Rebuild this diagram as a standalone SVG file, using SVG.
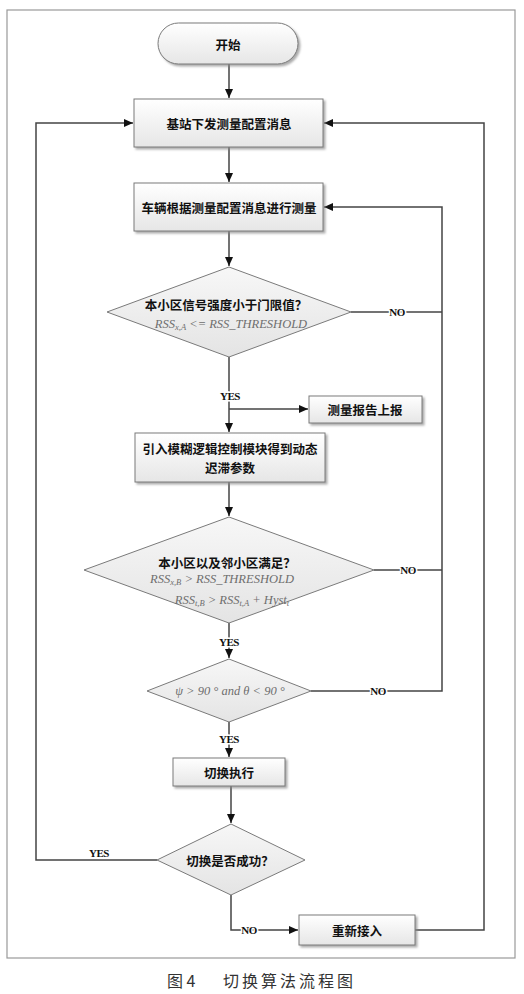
<svg xmlns="http://www.w3.org/2000/svg" width="524" height="994" viewBox="0 0 524 994">
<defs>
<linearGradient id="gBox" x1="0" y1="0" x2="0" y2="1"><stop offset="0" stop-color="#ffffff"/><stop offset="1" stop-color="#e6e6e6"/></linearGradient>
<linearGradient id="gDia" x1="0" y1="0" x2="0" y2="1"><stop offset="0" stop-color="#f7f7f7"/><stop offset="1" stop-color="#e4e4e4"/></linearGradient>
<filter id="sh" x="-10%" y="-10%" width="130%" height="140%"><feDropShadow dx="2" dy="2" stdDeviation="1" flood-color="#888" flood-opacity="0.7"/></filter>
<marker id="ar" markerWidth="10" markerHeight="10" refX="9" refY="5" orient="auto" markerUnits="userSpaceOnUse"><path d="M0,1 L9,5 L0,9 Z" fill="#111"/></marker>
</defs>
<style>
.box{fill:url(#gBox);stroke:#7a7a7a;stroke-width:1;filter:url(#sh)}
.dia{fill:url(#gDia);stroke:#7a7a7a;stroke-width:1}
.t{font-family:"Noto Sans CJK SC","Liberation Sans",sans-serif;font-weight:bold;font-size:12.5px;fill:#111;text-anchor:middle;dominant-baseline:central}
.m{font-family:"Liberation Serif",serif;font-style:italic;font-size:12.5px;fill:#6e6e6e;text-anchor:middle;dominant-baseline:central}
.lbl{font-family:"Liberation Serif",serif;font-weight:bold;font-size:11px;fill:#111;text-anchor:middle;dominant-baseline:central;letter-spacing:-0.5px;stroke:#fff;stroke-width:3px;paint-order:stroke}
.c{fill:none;stroke:#444;stroke-width:1.5}
.cap{font-family:"Noto Sans CJK SC","Liberation Serif",serif;font-size:16px;fill:#333;dominant-baseline:central}
</style>
<rect x="7" y="10" width="508" height="948" fill="#fff" stroke="#999" stroke-width="1.2"/>
<g id="connectors">
<path class="c" d="M229,64 V98" marker-end="url(#ar)"/>
<path class="c" d="M229,147 V182" marker-end="url(#ar)"/>
<path class="c" d="M229,231 V266" marker-end="url(#ar)"/>
<path class="c" d="M351,312 H442"/>
<path class="c" d="M229,357 V432" marker-end="url(#ar)"/>
<path class="c" d="M229,409 H308" marker-end="url(#ar)"/>
<path class="c" d="M229,482 V516" marker-end="url(#ar)"/>
<path class="c" d="M374,570 H442"/>
<path class="c" d="M229,623 V658" marker-end="url(#ar)"/>
<path class="c" d="M311,691 H442 V207 H324" marker-end="url(#ar)"/>
<path class="c" d="M229,722 V757" marker-end="url(#ar)"/>
<path class="c" d="M231,786 V823" marker-end="url(#ar)"/>
<path class="c" d="M157,860 H36 V123 H133" marker-end="url(#ar)"/>
<path class="c" d="M231,895 V930 H298" marker-end="url(#ar)"/>
<path class="c" d="M415,930 H484 V123 H324" marker-end="url(#ar)"/>
<text class="lbl" x="397" y="312">NO</text>
<text class="lbl" x="230" y="396">YES</text>
<text class="lbl" x="408" y="570">NO</text>
<text class="lbl" x="229" y="642">YES</text>
<text class="lbl" x="378" y="691">NO</text>
<text class="lbl" x="229" y="739">YES</text>
<text class="lbl" x="99" y="853">YES</text>
<text class="lbl" x="249" y="930">NO</text>
</g>
<g id="start">
<rect x="158" y="23" width="140" height="41" rx="20.5" class="box"/>
<text class="t" x="228" y="44">开始</text>
</g>
<g id="box1">
<rect x="134" y="99" width="189" height="48" class="box"/>
<text class="t" x="229" y="123">基站下发测量配置消息</text>
</g>
<g id="box2">
<rect x="134" y="183" width="189" height="48" class="box"/>
<text class="t" x="229" y="207">车辆根据测量配置消息进行测量</text>
</g>
<g id="dec1">
<polygon class="dia" points="229,267 351,312 229,357 107,312"/>
<text class="t" x="226" y="304">本小区信号强度小于门限值？</text>
<text class="m" x="231" y="324">RSS<tspan font-size="8.5" dy="3">x,A</tspan><tspan dy="-3">  &lt;= RSS_THRESHOLD</tspan></text>
</g>
<g id="report">
<rect x="309" y="396" width="113" height="27" class="box"/>
<text class="t" x="365" y="409.5">测量报告上报</text>
</g>
<g id="box3">
<rect x="135" y="433" width="190" height="49" class="box"/>
<text class="t" x="230" y="448.5" font-size="12">引入模糊逻辑控制模块得到动态</text>
<text class="t" x="230" y="467" font-size="12">迟滞参数</text>
</g>
<g id="dec2">
<polygon class="dia" points="229,517 374,570 229,623 84,570"/>
<text class="t" x="227" y="562">本小区以及邻小区满足？</text>
<text class="m" x="222" y="579">RSS<tspan font-size="8.5" dy="3">x,B</tspan><tspan dy="-3">  &gt; RSS_THRESHOLD</tspan></text>
<text class="m" x="232" y="600">RSS<tspan font-size="8.5" dy="3">t,B</tspan><tspan dy="-3"> &gt; RSS</tspan><tspan font-size="8.5" dy="3">t,A</tspan><tspan dy="-3"> + Hyst</tspan><tspan font-size="8.5" dy="3">t</tspan></text>
</g>
<g id="dec3">
<polygon class="dia" points="229,659 311,691 229,722 147,691"/>
<text class="m" x="230" y="691">ψ &gt; 90 ° and θ &lt; 90 °</text>
</g>
<g id="exec">
<rect x="173" y="758" width="112" height="28" class="box"/>
<text class="t" x="229" y="772">切换执行</text>
</g>
<g id="dec4">
<polygon class="dia" points="231,824 305,860 231,895 157,860"/>
<text class="t" x="230" y="860">切换是否成功？</text>
</g>
<g id="reaccess">
<rect x="299" y="915" width="116" height="30" class="box"/>
<text class="t" x="357" y="930">重新接入</text>
</g>
<text class="cap" x="167" y="980" xml:space="preserve">图 4</text>
<text class="cap" x="223" y="980" letter-spacing="3">切换算法流程图</text>
</svg>
